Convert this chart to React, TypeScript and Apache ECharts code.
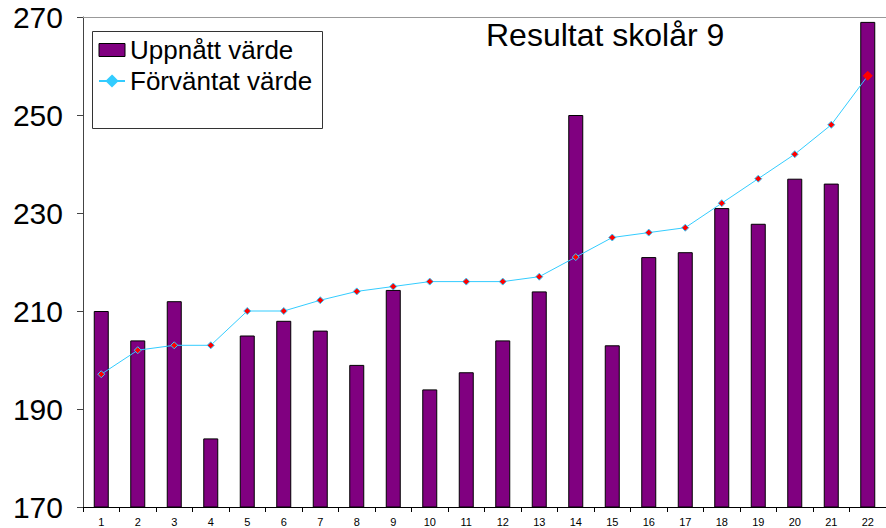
import React, { useEffect, useRef } from "react";
import * as echarts from "echarts";

const categories = ["1","2","3","4","5","6","7","8","9","10","11","12","13","14","15","16","17","18","19","20","21","22"];
const achieved = [210, 204, 212, 184, 205, 208, 206, 199, 214.3, 194, 197.5, 204, 214, 250, 203, 221, 222, 231, 227.8, 237, 236, 269];
const expected = [197.1, 202, 203, 203, 210, 210, 212.2, 214, 215, 216, 216, 216, 217, 221, 225, 226, 227, 232, 237, 242, 248, 258];
const yTicks = { min: 170, max: 270, interval: 20 };

const FONT = "'Liberation Sans', Arial, sans-serif";

export default function App() {
  const ref = useRef<HTMLDivElement>(null);
  useEffect(() => {
    if (!ref.current) return;
    const chart = echarts.init(ref.current, undefined, { renderer: "svg" });
    const lineData = expected.map((v, i) =>
      i === expected.length - 1
        ? { value: v, symbolSize: 9, itemStyle: { color: "#FF0000", borderColor: "#FF0000" } }
        : v
    );
    chart.setOption({
      animation: false,
      backgroundColor: "#fff",
      textStyle: { fontFamily: FONT },
      grid: { left: 83, top: 17, right: -4, bottom: 21, containLabel: false },
      title: {
        text: "Resultat skolår 9",
        left: 481,
        top: 14,
        textStyle: { fontSize: 32, fontWeight: "normal", color: "#000", fontFamily: FONT },
      },
      graphic: [
        {
          type: "line",
          shape: { x1: 83, y1: 17.5, x2: 890, y2: 17.5 },
          style: { stroke: "#999", lineWidth: 1 },
          z: 1,
        },
        {
          type: "rect",
          shape: { x: 92.5, y: 31.5, width: 230, height: 97 },
          style: { fill: "#fff", stroke: "#333", lineWidth: 1 },
          z: 2,
        },
      ],
      legend: {
        orient: "vertical",
        left: 93,
        top: 32,
        itemWidth: 26,
        itemHeight: 13,
        itemGap: 5,
        z: 5,
        textStyle: { fontSize: 26, color: "#000", fontFamily: FONT },
        data: [
          { name: "Uppnått värde", icon: "rect", itemStyle: { color: "#800080", borderColor: "#000", borderWidth: 1 } },
          { name: "Förväntat värde", itemStyle: { color: "#33CCFF", borderColor: "#33CCFF" } },
        ],
      },
      xAxis: {
        type: "category",
        data: categories,
        boundaryGap: true,
        axisLine: { lineStyle: { color: "#000", width: 1 } },
        axisTick: { show: true, interval: 0, length: 5, lineStyle: { color: "#000" } },
        axisLabel: { fontSize: 11, color: "#000", margin: 9, interval: 0, fontFamily: FONT },
      },
      yAxis: {
        type: "value",
        min: yTicks.min,
        max: yTicks.max,
        interval: yTicks.interval,
        axisLine: { show: true, lineStyle: { color: "#444", width: 1 } },
        axisTick: { show: true, length: 6, lineStyle: { color: "#444" } },
        splitLine: { show: false },
        axisLabel: { fontSize: 30, color: "#000", margin: 20, fontFamily: FONT },
      },
      series: [
        {
          name: "Uppnått värde",
          type: "bar",
          data: achieved,
          barWidth: 15,
          itemStyle: { color: "#800080", borderColor: "#000", borderWidth: 1 },
          z: 2,
        },
        {
          name: "Förväntat värde",
          type: "line",
          data: lineData,
          symbol: "diamond",
          symbolSize: 7,
          lineStyle: { color: "#33CCFF", width: 1 },
          itemStyle: { color: "#FF0000", borderColor: "#33CCFF", borderWidth: 1 },
          z: 3,
        },
      ],
    });
    return () => chart.dispose();
  }, []);
  return (
    <div
      ref={ref}
      style={{ position: "fixed", left: 0, top: 0, width: 886, height: 528 }}
    />
  );
}
